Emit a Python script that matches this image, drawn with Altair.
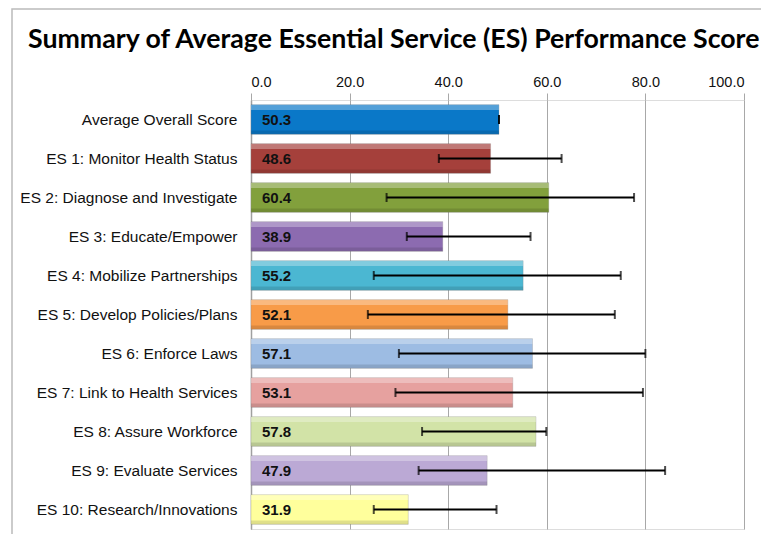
import altair as alt
import pandas as pd

categories = [
    "Average Overall Score",
    "ES 1: Monitor Health Status",
    "ES 2: Diagnose and Investigate",
    "ES 3: Educate/Empower",
    "ES 4: Mobilize Partnerships",
    "ES 5: Develop Policies/Plans",
    "ES 6: Enforce Laws",
    "ES 7: Link to Health Services",
    "ES 8: Assure Workforce",
    "ES 9: Evaluate Services",
    "ES 10: Research/Innovations",
]
scores = [50.3, 48.6, 60.4, 38.9, 55.2, 52.1, 57.1, 53.1, 57.8, 47.9, 31.9]
err_low = [50.3, 38.1, 27.5, 31.6, 24.9, 23.7, 30.0, 29.3, 34.7, 34.0, 24.9]
err_high = [50.3, 63.0, 77.7, 56.7, 75.0, 73.8, 80.0, 79.5, 59.9, 84.0, 49.8]
colors = ["#0A78C8", "#A5403B", "#82A03C", "#8C6BB0", "#4BB7D2", "#F89B48",
          "#9DBCE3", "#E6A19F", "#D2E3A7", "#BBA9D5", "#FFFF9C"]
ticks = [0, 20, 40, 60, 80, 100]

df = pd.DataFrame({"cat": categories, "score": scores, "lo": err_low, "hi": err_high})

ysort = alt.Y("cat:N", sort=categories)
y = alt.Y("cat:N", sort=categories, title=None,
          scale=alt.Scale(paddingInner=0.24, paddingOuter=0.12),
          axis=alt.Axis(ticks=False, labelPadding=14, labelFontSize=15.5,
                        labelFont="Liberation Sans", labelColor="#111111",
                        domainColor="#A0A0A0", domainWidth=1.5, labelLimit=300))
x = alt.X("score:Q", title=None,
          scale=alt.Scale(domain=[0, 100], nice=False),
          axis=alt.Axis(orient="top", values=ticks, format=".1f", grid=True,
                        gridColor="#A8A8A8", gridWidth=1, tickColor="#A8A8A8",
                        tickSize=7, labelFontSize=14.5, labelFont="Liberation Sans",
                        labelColor="#111111", labelPadding=4, domain=False))

base = alt.Chart(df)

frame = base.mark_rect(fill=None, stroke="#BBBBBB", strokeWidth=1.5).encode(
    x=alt.value(-239), x2=alt.value(700), y=alt.value(-91), y2=alt.value(600)
).transform_filter(alt.datum.cat == categories[0])

bars = base.mark_bar(stroke="#888888", strokeWidth=0.5, strokeOpacity=0.6).encode(
    x=x, y=y,
    color=alt.Color("cat:N", scale=alt.Scale(domain=categories, range=colors), legend=None),
)
highlight = base.mark_bar(color="white", opacity=0.3, size=5, yOffset=-12).encode(
    x="score:Q", y=ysort
)
shade = base.mark_bar(color="black", opacity=0.12, size=4, yOffset=13).encode(
    x="score:Q", y=ysort
)
labels = base.mark_text(align="left", baseline="middle", dx=11, fontSize=15,
                        fontWeight="bold", font="Liberation Sans", color="#111111").encode(
    x=alt.datum(0), y=ysort, text=alt.Text("score:Q", format=".1f")
)
rules = base.mark_rule(color="black", strokeWidth=2).encode(
    x="lo:Q", x2="hi:Q", y=ysort
)
cap_lo = base.mark_tick(color="black", thickness=2, size=9, orient="vertical").encode(
    x="lo:Q", y=ysort
)
cap_hi = base.mark_tick(color="black", thickness=2, size=9, orient="vertical").encode(
    x="hi:Q", y=ysort
)

chart = alt.layer(frame, bars, highlight, shade, labels, rules, cap_lo, cap_hi).properties(
    width=493, height=429,
    title=alt.TitleParams(
        "Summary of Average Essential Service (ES) Performance Score",
        font="Lato", fontSize=26.7, fontWeight="bold", color="#000000",
        anchor="start", frame="group", dx=-223, offset=-45,
    ),
    autosize=alt.AutoSizeParams(type="none"),
    padding={"left": 243, "top": 92, "right": 17, "bottom": 5},
).configure_view(stroke=None).configure(background="white")

chart.save("out.html", embed_options={"renderer": "svg", "actions": False})
